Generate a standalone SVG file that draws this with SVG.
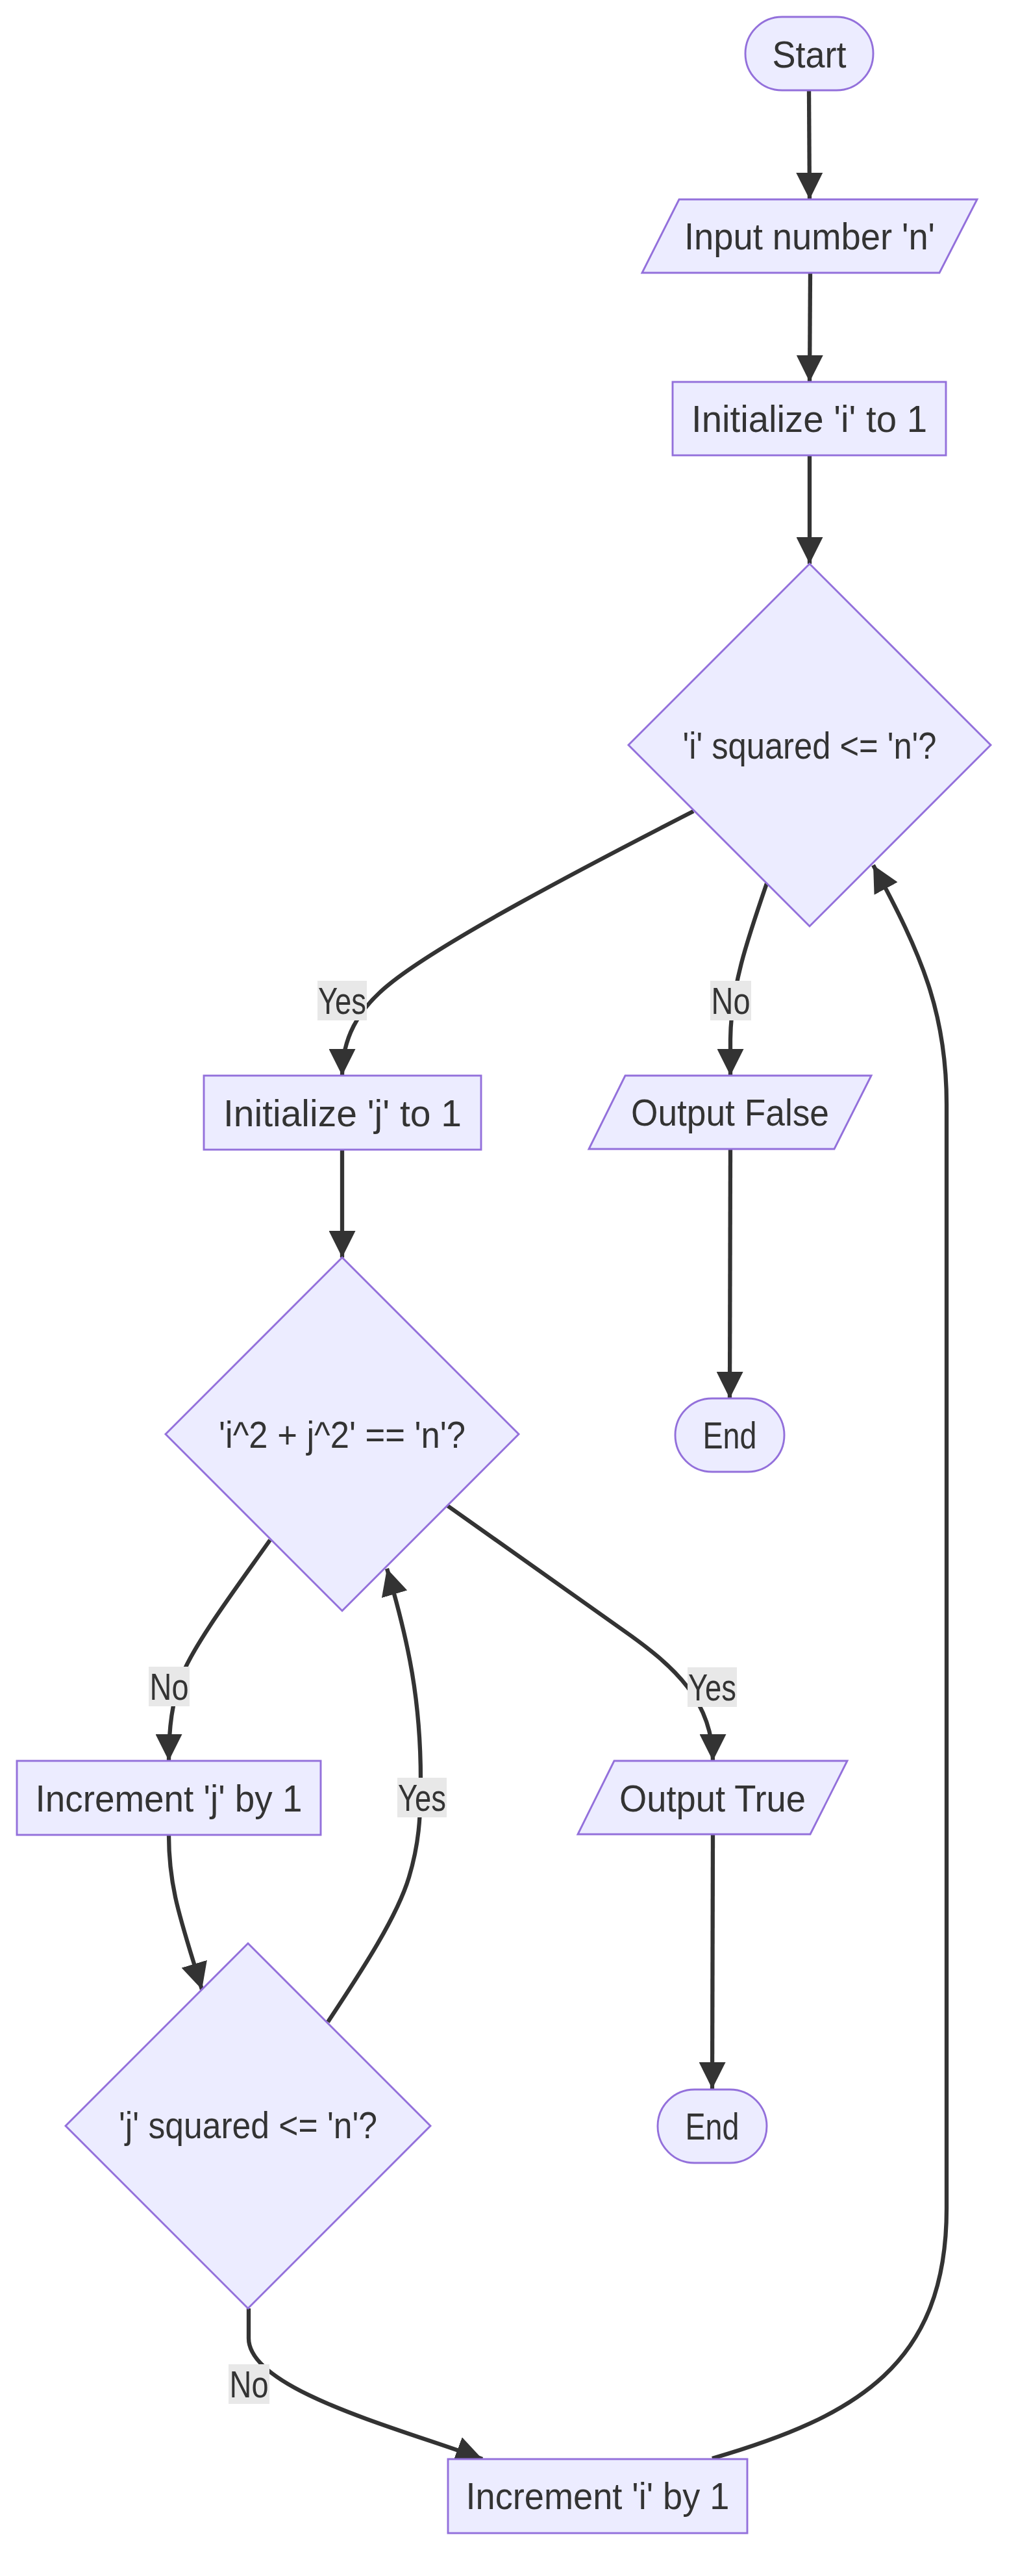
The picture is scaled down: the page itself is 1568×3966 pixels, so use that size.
<svg xmlns="http://www.w3.org/2000/svg" width="1568" height="3966" viewBox="0 0 1568 3966">
<style>
.node{fill:#ECECFF;stroke:#9370DB;stroke-width:2.9}
.edge{fill:none;stroke:#333333;stroke-width:6.3;marker-end:url(#arr)}
.t{font-family:"Liberation Sans",Arial,sans-serif;font-size:57px;fill:#333333;text-anchor:middle}
.lbl{fill:#e8e8e8}
</style>
<defs>
<marker id="arr" viewBox="0 0 10 10" refX="10" refY="5" markerUnits="userSpaceOnUse" markerWidth="41" markerHeight="41" orient="auto">
<path d="M0,0 L10,5 L0,10 z" fill="#333333"/>
</marker>
</defs>
<rect width="1568" height="3966" fill="#ffffff"/>
<g id="connectors">
<path class="edge" d="M1246,139 L1247,307"/>
<path class="edge" d="M1248,420 L1247,588"/>
<path class="edge" d="M1247,701 L1247,868"/>
<path class="edge" d="M1068,1249 C900,1335 680,1450 600,1515 C550,1555 527,1600 527,1656"/>
<path class="edge" d="M1181,1360 C1150,1450 1126,1520 1125,1600 L1125,1656"/>
<path class="edge" d="M1125,1769 L1124,2153"/>
<path class="edge" d="M527,1770 L527,1936"/>
<path class="edge" d="M416,2371 C360,2450 300,2530 280,2580 C265,2620 260,2660 260,2711"/>
<path class="edge" d="M689,2318 L960,2510 C1040,2566 1098,2620 1098,2711"/>
<path class="edge" d="M1098,2824 L1097,3216"/>
<path class="edge" d="M260,2825 C260,2910 280,2960 311,3063"/>
<path class="edge" d="M505,3113 C560,3030 612,2950 630,2890 C645,2840 648,2800 648,2740 C648,2620 630,2530 596,2415"/>
<path class="edge" d="M383,3554 L383,3600 C383,3680 620,3740 743,3786"/>
<path class="edge" d="M1097,3785 C1320,3720 1458,3640 1458,3400 L1458,1700 C1458,1560 1420,1470 1345,1332"/>
<g id="edge-labels">
<rect class="lbl" x="489" y="1510" width="76" height="61"/>
<text class="t" x="527" y="1561" textLength="74" lengthAdjust="spacingAndGlyphs">Yes</text>
<rect class="lbl" x="1094" y="1510" width="63" height="61"/>
<text class="t" x="1125.5" y="1561" textLength="60" lengthAdjust="spacingAndGlyphs">No</text>
<rect class="lbl" x="229" y="2566" width="63" height="61"/>
<text class="t" x="260.5" y="2617" textLength="60" lengthAdjust="spacingAndGlyphs">No</text>
<rect class="lbl" x="1059" y="2567" width="76" height="61"/>
<text class="t" x="1097" y="2618" textLength="74" lengthAdjust="spacingAndGlyphs">Yes</text>
<rect class="lbl" x="612" y="2737" width="76" height="61"/>
<text class="t" x="650" y="2788" textLength="74" lengthAdjust="spacingAndGlyphs">Yes</text>
<rect class="lbl" x="352" y="3640" width="63" height="61"/>
<text class="t" x="383.5" y="3691" textLength="60" lengthAdjust="spacingAndGlyphs">No</text>
</g>
</g>
<g id="start">
<rect class="node" x="1148" y="26" width="197" height="113" rx="56.5" ry="56.5"/>
<text class="t" x="1246.5" y="104" textLength="114" lengthAdjust="spacingAndGlyphs">Start</text>
</g>
<g id="input">
<polygon class="node" points="1046,307 1505,307 1447,420 989,420"/>
<text class="t" x="1247" y="384" textLength="386" lengthAdjust="spacingAndGlyphs">Input number 'n'</text>
</g>
<g id="init-i">
<rect class="node" x="1036" y="588" width="421" height="113"/>
<text class="t" x="1246.5" y="665" textLength="363" lengthAdjust="spacingAndGlyphs">Initialize 'i' to 1</text>
</g>
<g id="check-i">
<polygon class="node" points="1247,868 1526,1147 1247,1426 968,1147"/>
<text class="t" x="1247" y="1168" textLength="391" lengthAdjust="spacingAndGlyphs">'i' squared &lt;= 'n'?</text>
</g>
<g id="init-j">
<rect class="node" x="314" y="1656" width="427" height="114"/>
<text class="t" x="527.5" y="1734" textLength="367" lengthAdjust="spacingAndGlyphs">Initialize 'j' to 1</text>
</g>
<g id="output-false">
<polygon class="node" points="963,1656 1342,1656 1285,1769 907,1769"/>
<text class="t" x="1124.5" y="1733" textLength="305" lengthAdjust="spacingAndGlyphs">Output False</text>
</g>
<g id="end-1">
<rect class="node" x="1040" y="2153" width="168" height="113" rx="56.5" ry="56.5"/>
<text class="t" x="1124" y="2230" textLength="83" lengthAdjust="spacingAndGlyphs">End</text>
</g>
<g id="check-sum">
<polygon class="node" points="527,1936 799,2208 527,2480 255,2208"/>
<text class="t" x="527" y="2229" textLength="380" lengthAdjust="spacingAndGlyphs">'i^2 + j^2' == 'n'?</text>
</g>
<g id="inc-j">
<rect class="node" x="26" y="2711" width="468" height="114"/>
<text class="t" x="260" y="2789" textLength="411" lengthAdjust="spacingAndGlyphs">Increment 'j' by 1</text>
</g>
<g id="output-true">
<polygon class="node" points="946,2711 1305,2711 1248,2824 890,2824"/>
<text class="t" x="1097.5" y="2789" textLength="287" lengthAdjust="spacingAndGlyphs">Output True</text>
</g>
<g id="end-2">
<rect class="node" x="1013" y="3217" width="168" height="113" rx="56.5" ry="56.5"/>
<text class="t" x="1097" y="3294" textLength="83" lengthAdjust="spacingAndGlyphs">End</text>
</g>
<g id="check-j">
<polygon class="node" points="382,2992 663,3273 382,3554 101,3273"/>
<text class="t" x="382" y="3292" textLength="398" lengthAdjust="spacingAndGlyphs">'j' squared &lt;= 'n'?</text>
</g>
<g id="inc-i">
<rect class="node" x="690" y="3786" width="461" height="114"/>
<text class="t" x="920.5" y="3863" textLength="406" lengthAdjust="spacingAndGlyphs">Increment 'i' by 1</text>
</g>
</svg>
